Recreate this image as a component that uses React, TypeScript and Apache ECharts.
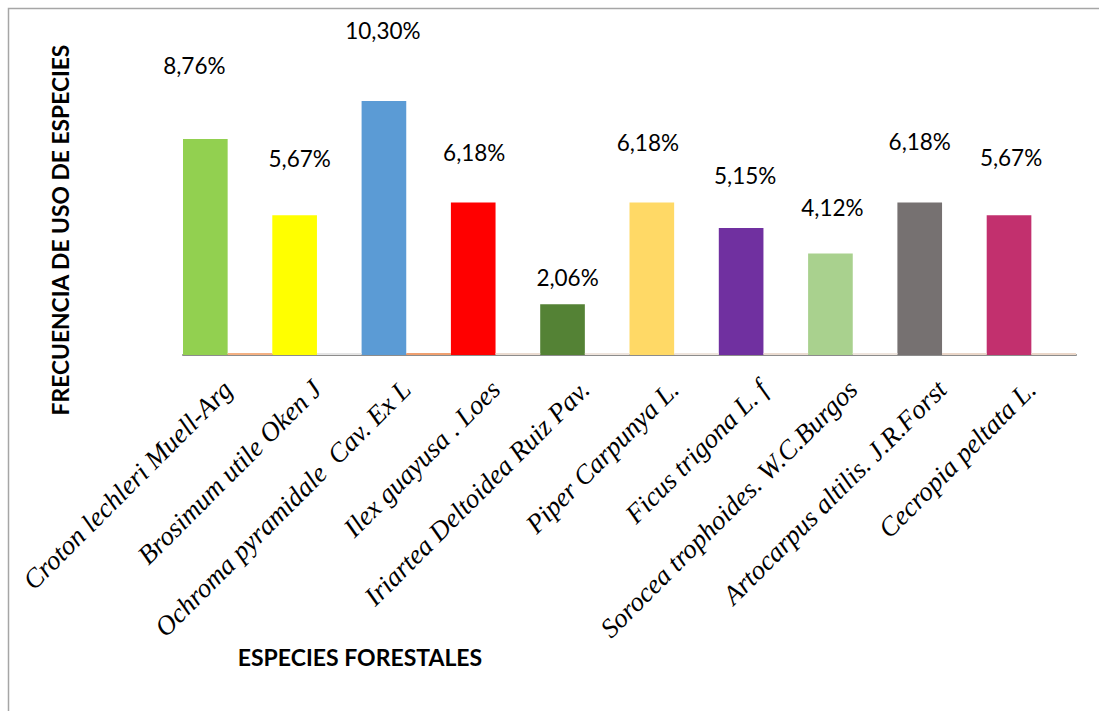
import React, { useEffect, useRef } from "react";
import * as echarts from "echarts";

const categories = [
  "Croton lechleri Muell-Arg",
  "Brosimum utile Oken J",
  "Ochroma pyramidale  Cav. Ex L",
  "Ilex guayusa . Loes",
  "Iriartea Deltoidea Ruiz Pav.",
  "Piper Carpunya L.",
  "Ficus trigona L. f",
  "Sorocea trophoides. W.C.Burgos",
  "Artocarpus altilis. J.R.Forst",
  "Cecropia peltata L.",
];
const frecuencia = [8.76, 5.67, 10.3, 6.18, 2.06, 6.18, 5.15, 4.12, 6.18, 5.67];
const secundaria = [0.08, 0.08, 0.08, 0.08, 0.08, 0.08, 0.08, 0.08, 0.08, 0.08];

const barColors = [
  "#92D050", "#FFFF00", "#5B9BD5", "#FF0000", "#548235",
  "#FFD966", "#7030A0", "#A9D18E", "#767171", "#C2306E",
];
const secColors = [
  "#F4B183", "#E4E4E4", "#F0A070", "#EADBD0", "#EEE4DC",
  "#EEE4DC", "#EADBD0", "#EEE4DC", "#EAD6C8", "#EAD6C8",
];
// label offsets [dx, gap above bar top] (style only)
const labelOffsets: [number, number][] = [
  [-11, 73], [5, 57], [-1, 71], [1, 50], [5, 27],
  [-4, 60], [4, 53], [2, 46], [0, 61], [2, 58],
];

export default function App() {
  const ref = useRef<HTMLDivElement>(null);
  useEffect(() => {
    if (!ref.current) return;
    const chart = echarts.init(ref.current, undefined, { renderer: "svg" });
    const fmt = (v: number) => v.toFixed(2).replace(".", ",") + "%";
    chart.setOption({
      animation: false,
      backgroundColor: "#ffffff",
      grid: { left: 183, right: 23, top: 355 - 14 * 24.66, bottom: 356, containLabel: false },
      xAxis: {
        type: "category",
        data: categories,
        axisLine: { show: true, lineStyle: { color: "#8c8c8c", width: 2 } },
        axisTick: { show: false },
        axisLabel: {
          interval: 0,
          rotate: 45,
          margin: 30,
          fontFamily: "Liberation Serif",
          fontStyle: "italic",
          fontSize: 27,
          color: "#000",
        },
      },
      yAxis: {
        type: "value",
        min: 0,
        max: 14,
        show: false,
        splitLine: { show: false },
      },
      series: [
        {
          type: "bar",
          data: frecuencia.map((v, i) => ({
            value: v,
            itemStyle: { color: barColors[i] },
            label: {
              show: true,
              position: "top",
              distance: 0,
              verticalAlign: "middle",
              offset: [labelOffsets[i][0], -labelOffsets[i][1]],
              formatter: fmt(v),
              fontFamily: "Lato",
              fontSize: 22.5,
              color: "#000",
            },
          })),
          barGap: "0%",
          barCategoryGap: "0%",
        },
        {
          type: "bar",
          data: secundaria.map((v, i) => ({ value: v, itemStyle: { color: secColors[i] } })),
          barGap: "0%",
          barCategoryGap: "0%",
        },
      ],
      graphic: [
        {
          type: "rect",
          shape: { x: 8.5, y: 8.5, width: 1300, height: 900 },
          style: { fill: "none", stroke: "#a6a6a6", lineWidth: 1.5 },
          silent: true,
        },
        {
          type: "text",
          x: 360,
          y: 657,
          style: {
            text: "ESPECIES FORESTALES",
            fontFamily: "Lato",
            fontWeight: "bold",
            fontSize: 23,
            fill: "#000",
            align: "center",
            verticalAlign: "middle",
          },
        },
        {
          type: "text",
          x: 60,
          y: 230,
          rotation: Math.PI / 2,
          style: {
            text: "FRECUENCIA DE USO DE ESPECIES",
            fontFamily: "Lato",
            fontWeight: "bold",
            fontSize: 22.8,
            fill: "#000",
            align: "center",
            verticalAlign: "middle",
          },
        },
      ],
    });
    return () => chart.dispose();
  }, []);
  return (
    <div
      ref={ref}
      style={{ position: "fixed", left: 0, top: 0, width: 1099, height: 711 }}
    />
  );
}
